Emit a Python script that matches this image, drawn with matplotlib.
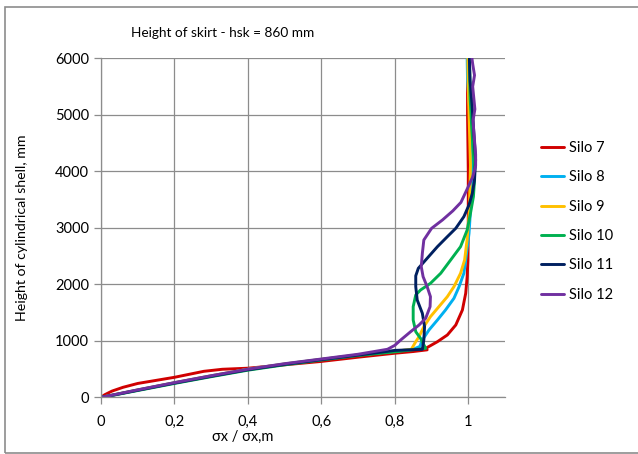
import matplotlib.pyplot as plt
from matplotlib.patches import Rectangle

plt.rcParams['font.family'] = ['Lato', 'DejaVu Sans']

# values (x = sigma_x / sigma_x,m, y = height in mm)
silo7_x = [0, 0.01, 0.03, 0.06, 0.1, 0.2, 0.28, 0.33, 0.4, 0.5, 0.6, 0.7, 0.8, 0.85, 0.888,
           0.885, 0.916, 0.943, 0.966, 0.984, 0.993, 0.997, 0.999, 1.0, 1.0, 0.998, 0.998]
silo7_y = [0, 45, 110, 177, 245, 354, 460, 496, 515, 575, 635, 710, 780, 810, 840,
           870, 984, 1103, 1280, 1545, 1841, 2135, 2430, 3000, 4000, 5000, 6000]

silo8_x = [0, 0.02, 0.1, 0.2, 0.3, 0.4, 0.5, 0.6, 0.7, 0.8, 0.85, 0.868, 0.875, 0.893,
           0.916, 0.938, 0.961, 0.975, 0.988, 0.993, 1.002, 1.008, 1.01, 1.005, 0.998, 0.997]
silo8_y = [0, 25, 130, 258, 380, 496, 590, 672, 750, 815, 850, 900, 1014, 1191,
           1368, 1545, 1752, 1958, 2195, 2430, 2900, 3500, 4200, 5000, 5600, 6000]

silo9_x = [0, 0.02, 0.1, 0.2, 0.3, 0.4, 0.5, 0.6, 0.7, 0.8, 0.845, 0.857, 0.866, 0.879,
           0.897, 0.920, 0.943, 0.961, 0.979, 0.990, 0.997, 1.003, 1.006, 1.003, 1.0, 0.999]
silo9_y = [0, 25, 130, 258, 380, 496, 590, 672, 750, 815, 850, 984, 1073, 1250,
           1427, 1604, 1781, 1958, 2195, 2430, 2800, 3300, 4100, 4800, 5500, 6000]

silo10_x = [0, 0.02, 0.1, 0.2, 0.3, 0.4, 0.5, 0.6, 0.7, 0.8, 0.884, 0.870, 0.857, 0.850,
            0.850, 0.857, 0.870, 0.897, 0.925, 0.952, 0.979, 0.997, 1.006, 1.014, 1.017,
            1.015, 1.01, 1.005, 1.003]
silo10_y = [0, 20, 120, 245, 365, 480, 575, 660, 740, 805, 867, 1044, 1161, 1368,
            1604, 1811, 1899, 2017, 2195, 2430, 2666, 2961, 3257, 3551, 3846,
            4200, 4700, 5300, 6000]

silo11_x = [0, 0.02, 0.1, 0.2, 0.3, 0.4, 0.5, 0.6, 0.7, 0.8, 0.875, 0.879, 0.881, 0.875,
            0.861, 0.857, 0.857, 0.864, 0.888, 0.916, 0.943, 0.966, 0.988, 1.002, 1.011,
            1.017, 1.02, 1.015, 1.01, 1.005, 1.003]
silo11_y = [0, 22, 125, 252, 372, 488, 583, 667, 747, 830, 849, 1014, 1250, 1486,
            1722, 1958, 2150, 2283, 2460, 2666, 2843, 2991, 3197, 3404, 3611,
            3846, 4200, 4700, 5200, 5600, 6000]

silo12_x = [0, 0.02, 0.1, 0.2, 0.3, 0.4, 0.5, 0.6, 0.7, 0.78, 0.8, 0.816, 0.843, 0.866,
            0.884, 0.896, 0.897, 0.888, 0.877, 0.872, 0.875, 0.879, 0.900, 0.930, 0.958,
            0.980, 0.998, 1.012, 1.02, 1.02, 1.015, 1.013, 1.018, 1.015, 1.012, 1.017,
            1.012, 1.01]
silo12_y = [0, 25, 132, 260, 382, 498, 595, 678, 762, 850, 920, 1014, 1161, 1280,
            1398, 1604, 1781, 1958, 2135, 2312, 2550, 2784, 2990, 3140, 3300,
            3450, 3700, 3900, 4100, 4300, 4700, 4900, 5100, 5300, 5500, 5700,
            5900, 6000]

series = [
    ('Silo 7', silo7_x, silo7_y, '#D00000'),
    ('Silo 8', silo8_x, silo8_y, '#00B0F0'),
    ('Silo 9', silo9_x, silo9_y, '#FFC000'),
    ('Silo 10', silo10_x, silo10_y, '#00B050'),
    ('Silo 11', silo11_x, silo11_y, '#002060'),
    ('Silo 12', silo12_x, silo12_y, '#7030A0'),
]

x_ticks = [0, 0.2, 0.4, 0.6, 0.8, 1.0]
x_tick_labels = ['0', '0,2', '0,4', '0,6', '0,8', '1']
y_ticks = [0, 1000, 2000, 3000, 4000, 5000, 6000]

fig = plt.figure(figsize=(6.38, 4.54), dpi=100)
fig.patches.append(Rectangle((5 / 638, 1 / 454), 1.0, 446 / 454, transform=fig.transFigure,
                             fill=False, edgecolor='#8c8c8c', linewidth=1.2))
ax = fig.add_axes([101 / 638, 56.7 / 454, 404 / 638, 339 / 454])

for name, xs, ys, col in series:
    ax.plot(xs, ys, color=col, linewidth=2.1, label=name,
            solid_capstyle='round', solid_joinstyle='round')

ax.set_xlim(0, 1.1)
ax.set_ylim(0, 6000)
ax.set_xticks(x_ticks)
ax.set_xticklabels(x_tick_labels)
ax.set_yticks(y_ticks)
ax.grid(True, color='#8c8c8c', linewidth=0.9)
ax.set_axisbelow(True)
for s in ['top', 'right']:
    ax.spines[s].set_visible(False)
for s in ['left', 'bottom']:
    ax.spines[s].set_color('#8c8c8c')
    ax.spines[s].set_linewidth(0.9)
ax.tick_params(colors='#8c8c8c', labelcolor='black', labelsize=10.5, length=5, width=0.9)
ax.tick_params(axis='x', pad=8)

fig.text(223 / 638, 1 - 33 / 454, 'Height of skirt - hsk = 860 mm', ha='center', va='center',
         fontsize=9.8)
fig.text(243 / 638, 1 - 437 / 454, 'σx / σx,m', ha='center', va='center', fontsize=10.5)
fig.text(22 / 638, 1 - 228 / 454, 'Height of cylindrical shell, mm', rotation=90,
         ha='center', va='center', fontsize=10.2)

fig.legend(loc='upper left', bbox_to_anchor=(528 / 638, 1 - 128 / 454), frameon=False,
           fontsize=10.5, handlelength=1.6, handletextpad=0.3, labelspacing=1.05)

fig.savefig('out.png', dpi=100)
